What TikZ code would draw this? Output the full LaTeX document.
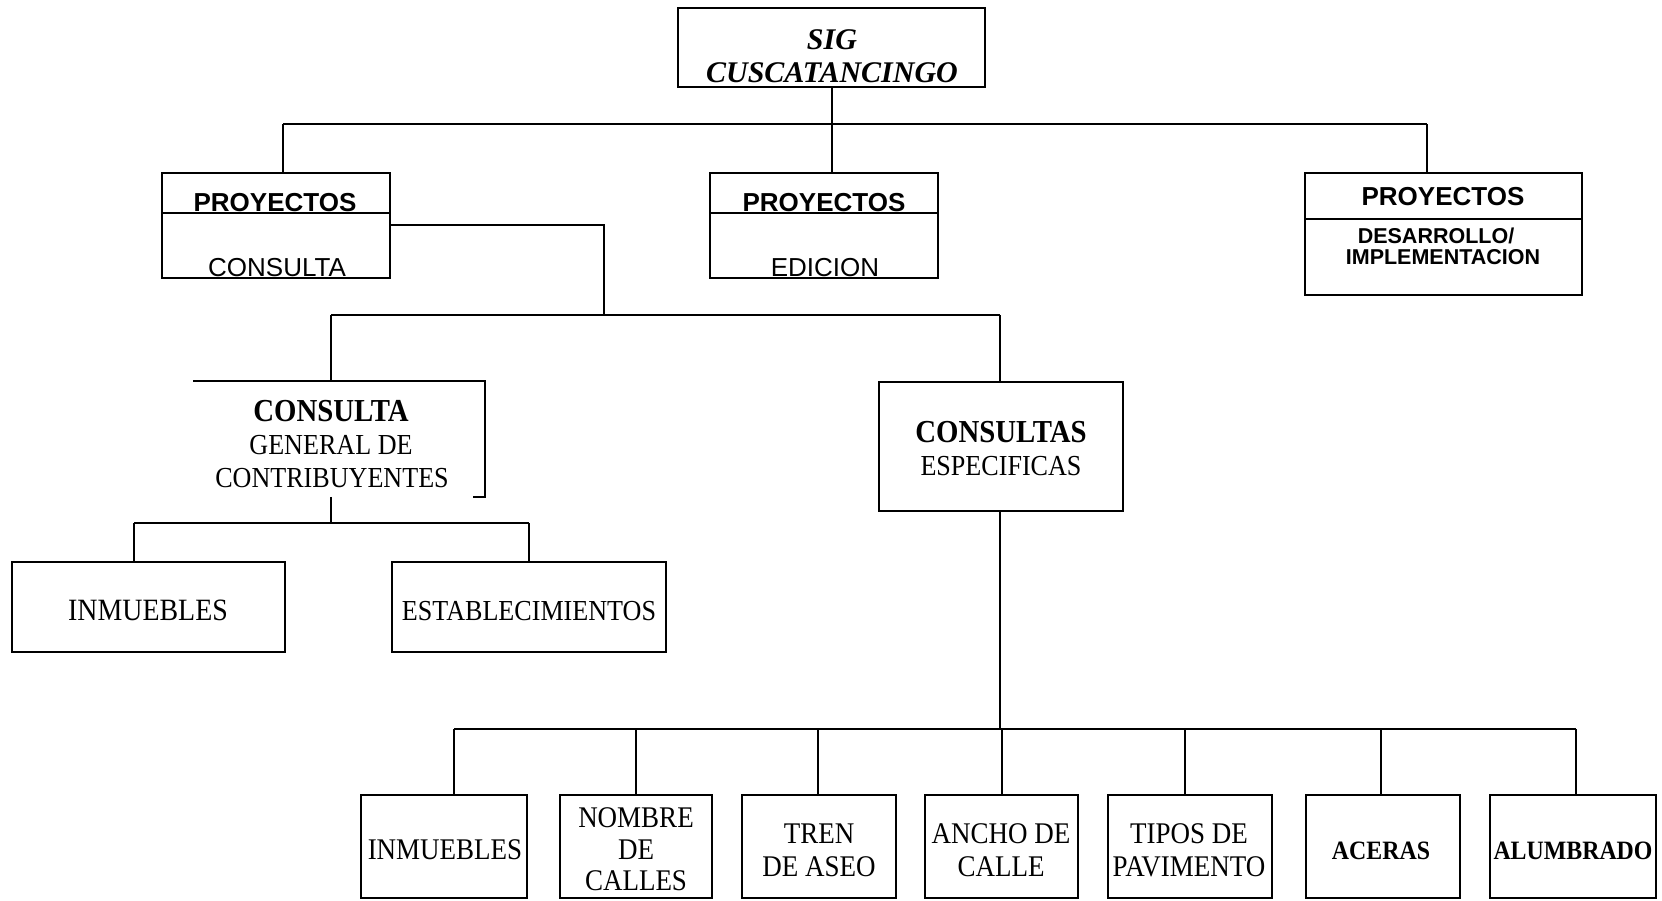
\documentclass[tikz,border=0pt]{standalone}
\usepackage{fontspec}
\setmainfont{Liberation Serif}
\newfontfamily\sansf{Liberation Sans}
\newfontfamily\condf{Liberation Serif}[FakeStretch=0.9]
\begin{document}
\begin{tikzpicture}[x=1pt,y=-1pt,line width=1.8pt,
  box/.style={draw,rectangle,inner sep=0pt},
  lbl/.style={anchor=base,inner sep=0pt},
  titlef/.style={lbl,font=\fontsize{30}{33}\selectfont\bfseries\itshape},
  proyf/.style={lbl,font=\fontsize{26}{30}\selectfont\sansf\bfseries},
  subf/.style={lbl,font=\fontsize{26}{30}\selectfont\sansf},
  devf/.style={lbl,font=\fontsize{21.5}{24}\selectfont\sansf\bfseries},
  headf/.style={lbl,font=\condf\fontsize{32}{33}\selectfont\bfseries},
  bodyf/.style={lbl,font=\condf\fontsize{29}{32}\selectfont},
  leaff/.style={lbl,font=\condf\fontsize{30}{32}\selectfont},
  leafb/.style={lbl,font=\condf\fontsize{26.5}{32}\selectfont\bfseries}]
\useasboundingbox (0,0) rectangle (1662,900);

% root
\node[box,minimum width=307pt,minimum height=79pt] (top) at (831.5,47.5) {};
\node[titlef] (top1) at (832,49) {SIG};
\node[titlef] (top2) at (832,82) {CUSCATANCINGO};

% project boxes
\node[box,minimum width=228pt,minimum height=105pt] (pL) at (276,225.5) {};
\node[box,minimum width=228pt,minimum height=105pt] (pM) at (824,225.5) {};
\node[box,minimum width=277pt,minimum height=122pt] (pR) at (1443.5,234) {};
\draw (pL.west |- 0,213) -- (pL.east |- 0,213);
\draw (pM.west |- 0,213) -- (pM.east |- 0,213);
\draw (pR.west |- 0,219) -- (pR.east |- 0,219);
\node[proyf] (pL1) at (275,211) {PROYECTOS};
\node[subf]  (pL2) at (277,276) {CONSULTA};
\node[proyf] (pM1) at (824,211) {PROYECTOS};
\node[subf]  (pM2) at (825,276) {EDICION};
\node[proyf] (pR1) at (1443,205) {PROYECTOS};
\node[devf]  (pR2) at (1436,243) {DESARROLLO/};
\node[devf]  (pR3) at (1443,264) {IMPLEMENTACION};

% root to projects
\coordinate (jL) at (283,124);
\coordinate (jM) at (832,124);
\coordinate (jR) at (1427,124);
\draw (jM |- top.south) -- (jM);
\draw (jL) -- (jR);
\draw (jL) -- (jL |- pL.north);
\draw (jM) -- (jM |- pM.north);
\draw (jR) -- (jR |- pR.north);

% query boxes
\node[minimum width=290pt,minimum height=114pt,inner sep=0pt] (cg) at (339,439) {};
\draw (cg.north west) -- (cg.north east) -- (cg.south east) -- ++(-12,0);
\node[headf] (cg1) at (331,421) {CONSULTA};
\node[bodyf] (cg2) at (331,454) {GENERAL DE};
\node[bodyf] (cg3) at (332,487) {CONTRIBUYENTES};

\node[box,minimum width=244pt,minimum height=129pt] (ce) at (1001,446.5) {};
\node[headf] (ce1) at (1001,442) {CONSULTAS};
\node[bodyf] (ce2) at (1001,475) {ESPECIFICAS};

\coordinate (k3) at (604,225);
\coordinate (k0) at (331,315);
\coordinate (k1) at (604,315);
\coordinate (k2) at (1000,315);
\draw (k3 -| pL.east) -- (k3) -- (k1);
\draw (k0) -- (k2);
\draw (k0) -- (k0 |- cg.north);
\draw (k2) -- (k2 |- ce.north);

% general query leaves
\node[box,minimum width=273pt,minimum height=90pt] (in1) at (148.5,607) {};
\node[box,minimum width=274pt,minimum height=90pt] (es1) at (529,607) {};
\node[lbl,font=\condf\fontsize{31}{32}\selectfont] (in1t) at (148,620) {INMUEBLES};
\node[lbl,font=\condf\fontsize{29}{32}\selectfont] (es1t) at (529,620) {ESTABLECIMIENTOS};
\coordinate (m0) at (331,523);
\coordinate (m1) at (134,523);
\coordinate (m2) at (529,523);
\draw (m0 |- cg.south) -- (m0);
\draw (m1) -- (m2);
\draw (m1) -- (m1 |- in1.north);
\draw (m2) -- (m2 |- es1.north);

% specific query leaves
\node[box,minimum width=166pt,minimum height=103pt] (b1) at (444,846.5) {};
\node[box,minimum width=152pt,minimum height=103pt] (b2) at (636,846.5) {};
\node[box,minimum width=154pt,minimum height=103pt] (b3) at (819,846.5) {};
\node[box,minimum width=153pt,minimum height=103pt] (b4) at (1001.5,846.5) {};
\node[box,minimum width=164pt,minimum height=103pt] (b5) at (1190,846.5) {};
\node[box,minimum width=154pt,minimum height=103pt] (b6) at (1383,846.5) {};
\node[box,minimum width=166pt,minimum height=103pt] (b7) at (1573,846.5) {};

\node[leaff] (b1t) at (445,859) {INMUEBLES};
\node[leaff] (b2a) at (636,827) {NOMBRE};
\node[leaff] (b2b) at (636,859) {DE};
\node[leaff] (b2c) at (636,890) {CALLES};
\node[leaff] (b3a) at (819,843) {TREN};
\node[leaff] (b3b) at (819,876) {DE ASEO};
\node[leaff] (b4a) at (1001,843) {ANCHO DE};
\node[leaff] (b4b) at (1001,876) {CALLE};
\node[leaff] (b5a) at (1189,843) {TIPOS DE};
\node[leaff] (b5b) at (1189,876) {PAVIMENTO};
\node[leafb] (b6t) at (1381,859) {ACERAS};
\node[leafb] (b7t) at (1573,859) {ALUMBRADO};

\coordinate (n0) at (1000,729);
\coordinate (n1) at (454,729);
\coordinate (n2) at (636,729);
\coordinate (n3) at (818,729);
\coordinate (n4) at (1002,729);
\coordinate (n5) at (1185,729);
\coordinate (n6) at (1381,729);
\coordinate (n7) at (1576,729);
\draw (n0 |- ce.south) -- (n0);
\draw (n1) -- (n7);
\foreach \i in {1,...,7} {\draw (n\i) -- (n\i |- b\i.north);}
\end{tikzpicture}
\end{document}
